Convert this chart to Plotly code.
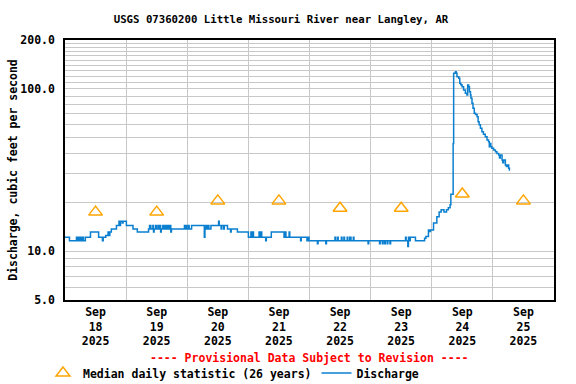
import pandas as pd
import plotly.graph_objects as go

# ---- data ----
start = "2025-09-18 00:00"

# discharge step breakpoints: hours after Sep 18 00:00, cfs
q_hours = [
    0, 1.75, 4.5, 4.75, 5.25, 5.5, 6.0, 6.5, 7.0, 7.25, 8.0, 10.0, 13.2, 14.7, 15.0,
    16.0, 16.9, 17.3, 17.6, 18.2, 20.2, 21.2, 21.5, 21.8, 22.5, 22.8, 24.1,
    26.7, 28.4, 32.8, 33.2, 33.7, 34.5, 34.75, 35.0, 35.6, 35.85, 36.5, 36.75,
    37.3, 37.55, 37.8, 38.4, 38.9, 39.5, 39.75, 40.3, 40.8, 41.3, 41.55, 41.8,
    46.9, 47.15, 47.6, 47.85, 48.5, 48.75, 49.7, 54.7, 54.95, 55.3, 55.6, 56.2,
    56.5, 57.3, 60.3, 60.55, 61.3, 61.55, 62.3, 62.55, 63.8, 65.0, 65.25, 67.7,
    72.0, 73.0, 73.25, 73.75, 74.0, 76.2, 76.45, 77.0, 77.25, 78.8, 79.05, 81.0,
    82.0, 82.25, 86.0, 86.5, 86.75, 88.0, 88.25, 92.5, 92.75, 95.0, 95.25, 95.8,
    99.1, 99.35, 102.4, 102.65, 106.0, 106.25, 107.0, 107.25, 108.5, 108.75,
    109.5, 109.75, 110.8, 111.05, 111.8, 112.3, 113.2, 113.45, 119.0, 119.25,
    123.5, 123.75, 124.6, 124.85, 125.5, 125.75, 126.5, 126.75, 127.6, 127.85,
    133.7, 133.95, 134.6, 134.85, 135.3, 135.55, 136.0, 137.6,
    141.2, 141.7, 142.7, 143.2, 143.5, 144.7, 146.0, 146.9, 147.7, 148.8, 149.8,
    150.5, 151.2, 151.5, 152.4, 152.6, 153.3, 153.6, 153.9, 154.6, 155.0, 155.4,
    155.9, 156.5, 157.2, 157.8, 158.1, 158.5, 158.8, 159.2, 159.4, 159.8, 160.2,
    160.7, 161.2, 161.8, 162.2, 162.6, 163.1, 163.7, 164.3, 165.0, 165.7, 166.3,
    166.6, 166.85, 167.2, 167.6, 168.3, 169.0, 169.6, 170.3, 170.6, 170.9, 171.6,
    171.9, 172.2, 172.9, 173.3, 173.6, 174.2, 174.5, 174.75,
]
q_cfs = [
    12.2, 11.6, 12.2, 11.6, 12.2, 11.6, 12.2, 11.6, 12.2, 11.6, 12.2, 13.1, 12.2, 11.6, 12.2,
    12.5, 13.1, 12.5, 13.1, 13.7, 14.4, 15.3, 14.4, 15.3, 14.9, 15.3, 14.4,
    13.7, 13.1, 13.7, 14.4, 13.7, 14.4, 13.1, 13.7, 14.4, 13.7, 14.4, 13.7,
    14.4, 13.1, 13.7, 14.4, 13.7, 14.4, 13.7, 14.4, 13.7, 14.4, 13.1, 13.7,
    14.4, 13.7, 14.4, 13.7, 14.4, 13.7, 14.4, 12.2, 13.7, 14.4, 13.7, 14.4,
    13.7, 14.4, 15.3, 14.4, 13.7, 14.4, 13.7, 14.4, 13.7, 13.1, 13.7, 13.1,
    12.2, 13.1, 12.2, 13.1, 12.2, 13.1, 12.2, 13.1, 12.2, 11.6, 12.2, 13.1,
    13.1, 13.1, 12.2, 13.1, 12.2, 13.1, 12.2, 11.6, 12.2, 11.6, 12.2, 11.6,
    11.1, 11.6, 11.1, 11.6, 12.2, 11.6, 12.2, 11.6, 12.2, 11.6,
    12.2, 11.6, 12.2, 11.6, 12.2, 11.6, 12.2, 11.6, 11.1, 11.6,
    11.1, 11.6, 11.1, 11.6, 11.1, 11.6, 11.1, 11.6, 11.1, 11.6,
    12.2, 11.6, 10.7, 12.2, 11.6, 12.2, 12.2, 11.6,
    12.0, 12.3, 13.5, 13.2, 13.5, 14.9, 16.3, 17.4, 18.0, 17.4, 18.0,
    18.5, 19.3, 22.4, 46.0, 124.7, 127.6, 124.7, 118.9, 116.1, 108.2, 106.0,
    103.1, 98.4, 93.8, 91.6, 105.6, 103.1, 96.1, 91.6, 87.4, 81.5, 75.9,
    70.7, 69.5, 67.4, 62.8, 60.0, 57.1, 54.5, 52.5, 50.7, 48.4, 47.2,
    44.0, 46.0, 44.0, 43.0, 42.0, 41.0, 40.0, 39.1, 37.5, 39.1, 36.4,
    35.0, 36.4, 34.0, 33.2, 34.0, 32.4, 31.6, 31.6,
]

# median daily statistic (26 years), plotted at noon of each day
median_dates = ["2025-09-18 12:00", "2025-09-19 12:00", "2025-09-20 12:00", "2025-09-21 12:00",
                "2025-09-22 12:00", "2025-09-23 12:00", "2025-09-24 12:00", "2025-09-25 12:00"]
median_cfs = [17.4, 17.4, 20.4, 20.4, 18.4, 18.4, 22.5, 20.4]

x_tick_vals = median_dates
x_tick_text = ["Sep<br>18<br>2025", "Sep<br>19<br>2025", "Sep<br>20<br>2025", "Sep<br>21<br>2025",
               "Sep<br>22<br>2025", "Sep<br>23<br>2025", "Sep<br>24<br>2025", "Sep<br>25<br>2025"]
x_grid_vals = ["2025-09-19", "2025-09-20", "2025-09-21", "2025-09-22",
               "2025-09-23", "2025-09-24", "2025-09-25"]
y_tick_vals = [5, 10, 100, 200]
y_tick_text = ["5.0", "10.0", "100.0", "200.0"]
y_grid_vals = [6, 7, 8, 9, 20, 30, 40, 50, 60, 70, 80, 90,
               110, 120, 130, 140, 150, 160, 170, 180, 190]

q_times = pd.Timestamp(start) + pd.to_timedelta(q_hours, unit="h")

FONT = "DejaVu Sans Mono"
GRID = "#c8c8c8"

fig = go.Figure()
fig.add_trace(go.Scatter(
    x=median_dates, y=median_cfs, mode="markers",
    name="Median daily statistic (26 years)",
    marker=dict(symbol="triangle-up-open", size=12, color="#FFA500",
                line=dict(width=1.5, color="#FFA500")),
))
fig.add_trace(go.Scatter(
    x=q_times, y=q_cfs, mode="lines", name="Discharge",
    line=dict(color="#0a7fcf", width=1.5, shape="hv"),
))

fig.update_layout(
    width=576, height=384,
    margin=dict(l=65, r=22, t=40, b=84, autoexpand=False),
    paper_bgcolor="white", plot_bgcolor="white",
    font=dict(family=FONT, size=11.5, color="black", weight="bold"),
    title=dict(text="USGS 07360200 Little Missouri River near Langley, AR",
               x=281 / 576, xref="container", xanchor="center",
               y=1 - 19 / 384, yref="container", yanchor="middle",
               font=dict(family=FONT, size=10.7, color="black", weight="bold")),
    showlegend=True,
    legend=dict(orientation="h", x=(43 - 65) / 489, xref="paper", xanchor="left",
                y=(300 - 373) / 260, yref="paper", yanchor="middle",
                font=dict(family=FONT, size=11.5, color="black", weight="bold"),
                itemwidth=30, tracegroupgap=0, bgcolor="rgba(0,0,0,0)"),
    annotations=[dict(text="---- Provisional Data Subject to Revision ----",
                      x=0.5, xref="paper", xanchor="center",
                      y=(300 - 358) / 260, yref="paper", yanchor="middle",
                      showarrow=False,
                      font=dict(family=FONT, size=11.5, color="red", weight="bold"))],
)

fig.update_xaxes(
    type="date", range=["2025-09-18", "2025-09-26"], automargin=False,
    tickmode="array", tickvals=x_tick_vals, ticktext=x_tick_text,
    showgrid=False, ticks="", tickangle=0,
    showline=True, linecolor="black", linewidth=1.5, mirror=True,
    zeroline=False,
    minor=dict(tickmode="array", tickvals=x_grid_vals, showgrid=True,
               gridcolor=GRID, gridwidth=1, ticks=""),
)
fig.update_yaxes(
    type="log", range=[0.69897, 2.30103], automargin=False,
    tickmode="array", tickvals=y_tick_vals, ticktext=y_tick_text,
    showgrid=True, gridcolor=GRID, gridwidth=1, ticks="",
    ticklabelstandoff=6,
    showline=True, linecolor="black", linewidth=1.5, mirror=True,
    zeroline=False,
    title=dict(text="Discharge, cubic feet per second", standoff=0,
               font=dict(family=FONT, size=11.5, color="black", weight="bold")),
    minor=dict(tickmode="array", tickvals=y_grid_vals, showgrid=True,
               gridcolor=GRID, gridwidth=1, ticks=""),
)

fig.write_html("out.html", config={"displayModeBar": False},
               post_script="document.body.style.margin='0px';")
